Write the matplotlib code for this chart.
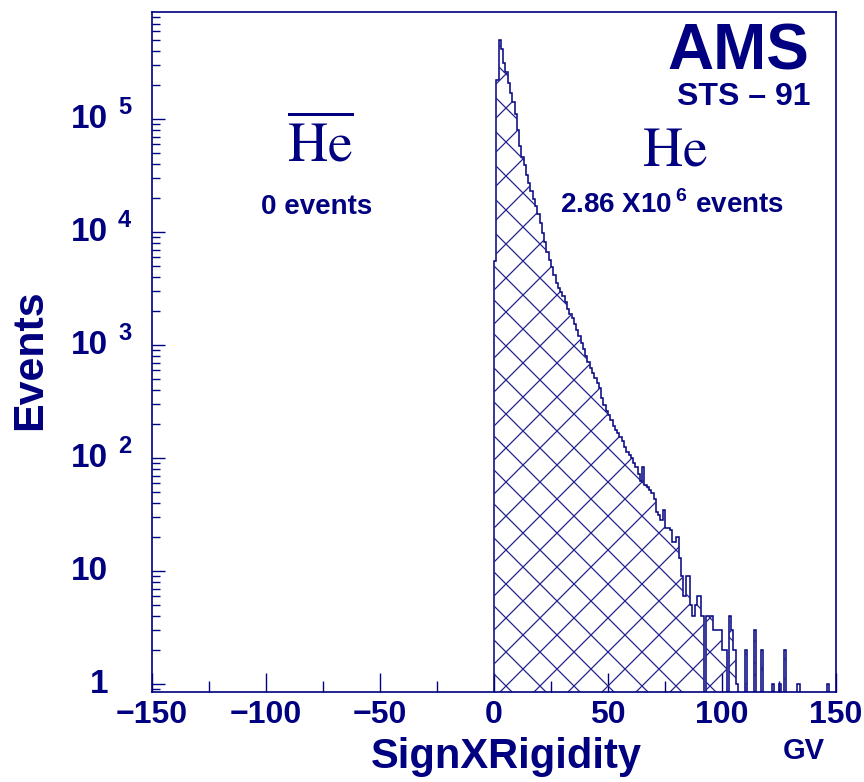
import numpy as np
import matplotlib.pyplot as plt
from matplotlib.collections import LineCollection
from matplotlib.transforms import Affine2D, blended_transform_factory
from matplotlib.ticker import FixedLocator, LogLocator, NullFormatter

navy = '#000080'
W, H = 864, 782

plt.rcParams['mathtext.fontset'] = 'custom'
plt.rcParams['mathtext.rm'] = 'Liberation Sans:bold'
plt.rcParams['mathtext.bf'] = 'Liberation Sans:bold'

# He events per 1 GV bin, 0..150 GV
he_counts = [
    5500, 220000, 500000, 420000, 310000, 260000, 210000, 170000, 140000, 110000,
    80000, 58000, 46000, 39000, 32000, 27000, 23000, 19500, 17000, 14500,
    12000, 9800, 8100, 6600, 5600, 4900, 4200, 3550, 3200, 2950,
    2700, 2400, 2100, 1900, 1740, 1550, 1350, 1200, 1050, 920,
    800, 710, 630, 565, 510, 460, 415, 340, 295, 260,
    240, 215, 192, 178, 166, 154, 141, 125, 113, 106,
    100, 91, 83, 72, 62, 83, 58, 55, 52, 49,
    43, 33, 31, 28, 35, 24, 24, 23, 18, 18,
    20, 13, 9, 6, 9, 9, 5, 4, 5, 6,
    6, 4, 0, 4, 4, 4, 3, 3, 3, 3,
    2, 2, 0, 4, 3, 2, 1, 0, 0, 0,
    2, 0, 0, 0, 3, 0, 0, 2, 0, 0,
    0, 0, 1, 0, 0, 1, 0, 2, 0, 0,
    0, 0, 0, 1, 0, 0, 0, 0, 0, 0,
    0, 0, 0, 0, 0, 0, 1, 0, 0, 0,
]
he_edges = np.arange(0, 151, 1)

x_major = [-150, -100, -50, 0, 50, 100, 150]
x_major_labels = ['\u2212150', '\u2212100', '\u221250', '0', '50', '100', '150']
x_minor = [-125, -75, -25, 25, 75, 125]
y_decades = [0, 1, 2, 3, 4, 5]
y_base = ['1', '10', '10', '10', '10', '10']
y_exp = ['', '', '2', '3', '4', '5']

sans = 'Liberation Sans'

fig = plt.figure(figsize=(W / 100, H / 100), dpi=100)
ax = fig.add_axes([152 / W, 90 / H, 684 / W, 680 / H])
ax.set_yscale('log')
ax.set_xlim(-150, 150)
ax.set_ylim(0.85, 8.85e5)

for s in ax.spines.values():
    s.set_color(navy)
    s.set_linewidth(1.2)

# histogram: zero bins pushed below the axis floor
counts = np.array(he_counts, dtype=float)
plot_vals = np.where(counts > 0, counts, 1e-3)
area = ax.stairs(plot_vals, he_edges, baseline=1e-3, fill=True,
                 facecolor='none', edgecolor='none')
ax.stairs(plot_vals, he_edges, baseline=1e-3, color=navy, lw=1.1)

# cross hatch in figure pixels, clipped to the histogram area
segs = []
for k in range(-60, 80):
    c = 24 + 34 * k
    segs.append([(-200, c + 200), (1100, c - 1100)])
    d = -2 + 34 * k
    segs.append([(-200, d - 200), (1100, d + 1100)])
hatch = LineCollection(segs, colors='#23238f', linewidths=0.9,
                       transform=Affine2D().scale(1 / W, 1 / H) + fig.transFigure)
ax.add_collection(hatch, autolim=False)
hatch.set_clip_path(area)

# ticks
ax.xaxis.set_major_locator(FixedLocator(x_major))
ax.xaxis.set_minor_locator(FixedLocator(x_minor))
ax.set_xticklabels(x_major_labels, fontfamily=sans, fontweight='bold',
                   fontsize=23, color=navy)
ax.tick_params(axis='x', which='major', direction='in', length=14, width=1,
               colors=navy, pad=6)
ax.tick_params(axis='x', which='minor', direction='in', length=8, width=1,
               colors=navy)
ax.yaxis.set_minor_locator(LogLocator(base=10, subs=np.arange(2, 10)))
ax.yaxis.set_major_formatter(NullFormatter())
ax.yaxis.set_minor_formatter(NullFormatter())
ax.tick_params(axis='y', which='major', direction='in', length=9, width=1,
               colors=navy)
ax.tick_params(axis='y', which='minor', direction='in', length=6, width=1,
               colors=navy)

ytrans = blended_transform_factory(fig.transFigure, ax.transData)
for k, b, e in zip(y_decades, y_base, y_exp):
    ax.text(108 / W, 10 ** k, b, transform=ytrans, ha='right', va='center',
            fontfamily=sans, fontweight='bold', fontsize=24, color=navy)
    if e:
        ax.text(118 / W, 10 ** k * 10 ** 0.1, e, transform=ytrans, ha='left',
                va='center', fontfamily=sans, fontweight='bold', fontsize=17,
                color=navy)

# labels
fig.text(30 / W, 1 - 360 / H, 'Events', rotation=90, ha='center', va='center',
         fontfamily=sans, fontweight='bold', fontsize=31, color=navy)
fig.text(506 / W, 1 - 757 / H, 'SignXRigidity', ha='center', va='center',
         fontfamily=sans, fontweight='bold', fontsize=30, color=navy)
fig.text(804 / W, 1 - 751 / H, 'GV', ha='center', va='center',
         fontfamily=sans, fontweight='bold', fontsize=21, color=navy)

fig.text(738 / W, 1 - 52 / H, 'AMS', ha='center', va='center',
         fontfamily=sans, fontweight='bold', fontsize=46, color=navy)
fig.text(744 / W, 1 - 97 / H, 'STS \u2013 91', ha='center', va='center',
         fontfamily=sans, fontweight='bold', fontsize=23, color=navy)

fig.text(320 / W, 1 - 146 / H, r'$\overline{\mathrm{He}}$', ha='center',
         va='center', fontsize=40, color=navy, math_fontfamily='stix')
fig.text(675 / W, 1 - 150 / H, r'$\mathrm{He}$', ha='center', va='center',
         fontsize=40, color=navy, math_fontfamily='stix')
fig.text(317 / W, 1 - 207 / H, '0 events', ha='center', va='center',
         fontfamily=sans, fontweight='bold', fontsize=20, color=navy)
fig.text(672 / W, 1 - 205 / H, r'2.86 X10$\,^{6}$ events', ha='center',
         va='center', fontfamily=sans, fontweight='bold', fontsize=20,
         color=navy, math_fontfamily='custom')

fig.savefig('out.png', dpi=100)
